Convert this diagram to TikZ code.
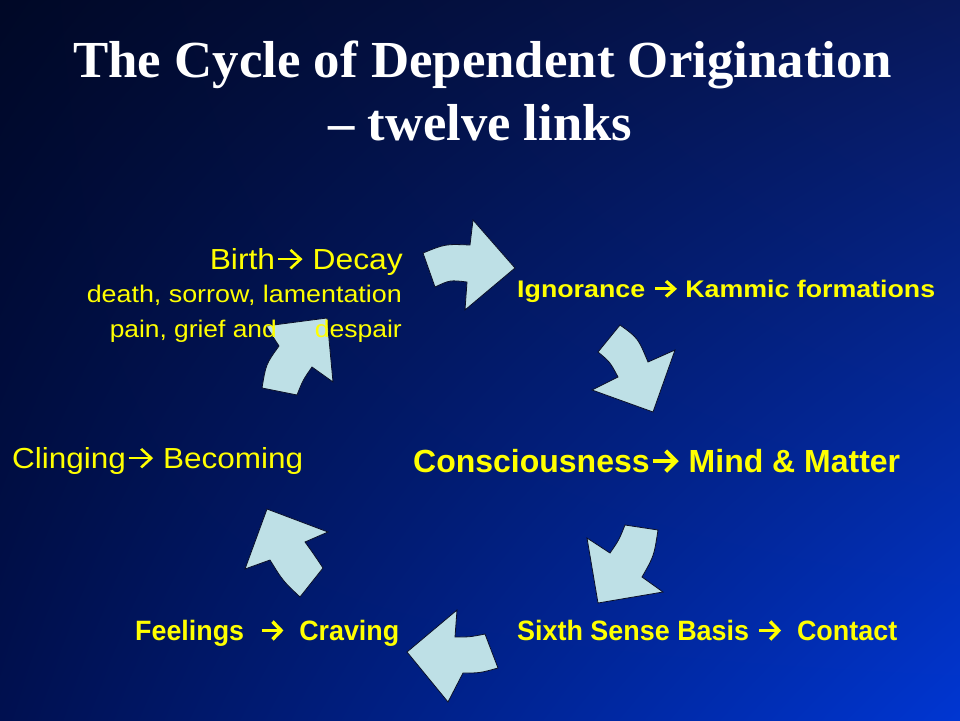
\documentclass[tikz,border=0pt]{standalone}
\usepackage{fontspec}
\usetikzlibrary{shadings}
\setmainfont{Liberation Sans}
\newfontfamily\titlefont{Liberation Serif}
\definecolor{bgUL}{RGB}{0,8,38}
\definecolor{bgUR}{RGB}{8,24,90}
\definecolor{bgLL}{RGB}{0,16,80}
\definecolor{bgLR}{RGB}{0,54,210}
\definecolor{arrfill}{RGB}{190,224,230}
\definecolor{arredge}{RGB}{10,15,40}
\definecolor{txtyel}{RGB}{255,255,0}
\newcommand{\fitw}[2]{\resizebox{#1}{\height}{#2}}
\newcommand{\yarrw}[1]{\hspace{0.04em}\tikz[baseline=0pt,x=1em,y=1em]{\draw[txtyel,line width=#1] (0.02,0.34) -- (0.74,0.34); \draw[txtyel,line width=#1,line join=miter] (0.42,0.66) -- (0.74,0.34) -- (0.42,0.02);}\hspace{0.06em}}
\newcommand{\yarr}{\yarrw{0.085em}}
\newcommand{\yarrb}{\yarrw{0.125em}}
\begin{document}
\begin{tikzpicture}[x=1pt,y=-1pt,
  blockarrow/.style={fill=arrfill,draw=arredge,line width=0.8pt,line join=miter},
  lbl/.style={text=txtyel,inner sep=0pt},
  ttl/.style={text=white,inner sep=0pt,font=\titlefont\bfseries\fontsize{52}{56}\selectfont},
  bigreg/.style={font=\fontsize{29}{33}\selectfont},
  smallreg/.style={font=\fontsize{24}{28}\selectfont}]
\shade[upper left=bgUL, upper right=bgUR, lower left=bgLL, lower right=bgLR] (0,0) rectangle (960,720);
\useasboundingbox (0,0) rectangle (960,720);
% block arrows
\draw[blockarrow] (423,253) .. controls (445,244) .. (470,245) -- (473,220) -- (515,268) -- (465,310) -- (467,282) .. controls (450,280) .. (435,287) -- cycle;
\draw[blockarrow] (598,352) -- (620,325) .. controls (638,338) .. (648,362) -- (675,350) -- (653,412) -- (592,390) -- (618,377) .. controls (610,362) .. cycle;
\draw[blockarrow] (625,525) -- (658,530) .. controls (654,556) .. (642,577) -- (663,592) -- (598,603) -- (587,538) -- (610,553) .. controls (619,540) .. cycle;
\draw[blockarrow] (485,634) -- (498,668) .. controls (480,673) .. (463,673) -- (448,702) -- (407,652) -- (457,610) -- (455,637) .. controls (470,637) .. cycle;
\draw[blockarrow] (323,568) -- (300,597) .. controls (283,581) .. (270,560) -- (245,569) -- (267,509) -- (328,532) -- (305,542) .. controls (313,553) .. cycle;
\draw[blockarrow] (262,388) .. controls (266,364) .. (279,346) -- (266,326) -- (327,318) -- (333,382) -- (312,367) .. controls (303,380) .. (297,395) -- cycle;
% title
\node[ttl, anchor=base west] (title1) at (73,77) {\fitw{819pt}{The Cycle of Dependent Origination}};
\node[ttl, anchor=base west] (title2) at (328,140) {\fitw{304pt}{– twelve links}};
% labels
\node[lbl, bigreg, anchor=base east] (birth) at (403,269) {\fitw{193pt}{Birth\yarr\ Decay}};
\node[lbl, smallreg, anchor=base east] (death) at (402,302) {\fitw{315pt}{death, sorrow, lamentation}};
\node[lbl, smallreg, anchor=base east] (pain) at (402,337) {\fitw{167pt}{pain, grief and}\hspace{38pt}\fitw{87pt}{despair}};
\node[lbl, bigreg, anchor=base west] (cling) at (12,468) {\fitw{291pt}{Clinging\yarr\ Becoming}};
\node[lbl, anchor=base west, font=\bfseries\fontsize{24}{28}\selectfont] (ignor) at (517,297) {\fitw{418pt}{Ignorance \yarrb\ Kammic formations}};
\node[lbl, anchor=base west, font=\bfseries\fontsize{32}{36}\selectfont] (consc) at (413,472) {\fitw{487pt}{Consciousness\yarrb\ Mind \& Matter}};
\node[lbl, anchor=base west, font=\bfseries\fontsize{28}{32}\selectfont] (sixth) at (517,640) {\fitw{380pt}{Sixth Sense Basis \yarrb\ \ Contact}};
\node[lbl, anchor=base west, font=\bfseries\fontsize{28}{32}\selectfont] (feel) at (135,640) {\fitw{264pt}{Feelings \ \yarrb\ \ Craving}};
\end{tikzpicture}
\end{document}
